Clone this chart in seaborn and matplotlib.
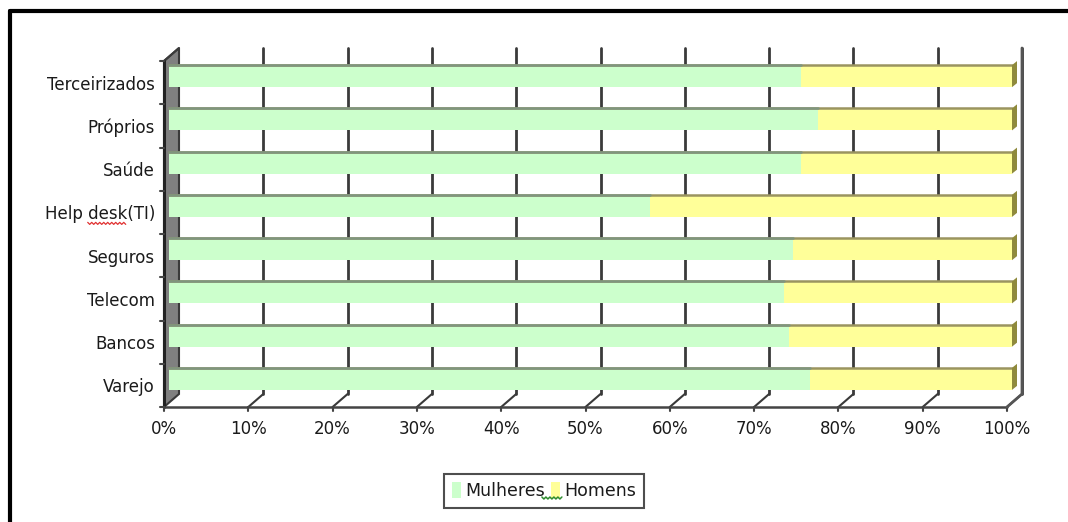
import matplotlib
matplotlib.use("Agg")
import matplotlib.pyplot as plt
from matplotlib.lines import Line2D
from matplotlib.patches import Polygon, Patch
from matplotlib.transforms import ScaledTranslation, IdentityTransform
import numpy as np
import pandas as pd
import seaborn as sns

# Data: share of women / men by call-center segment (%)
categorias = ["Terceirizados", "Próprios", "Saúde", "Help desk(TI)",
              "Seguros", "Telecom", "Bancos", "Varejo"]
mulheres = [75, 77, 75, 57, 74, 73, 73.5, 76]
homens = [25, 23, 25, 43, 26, 27, 26.5, 24]
x_ticks = [0, 10, 20, 30, 40, 50, 60, 70, 80, 90, 100]
x_tick_labels = ["0%", "10%", "20%", "30%", "40%", "50%", "60%",
                 "70%", "80%", "90%", "100%"]
serie_labels = ["Mulheres", "Homens"]

GREEN = "#CCFFCC"
YELLOW = "#FFFF99"
WALL = "#808080"
EDGE = "#3a3a3a"
TEXT = "#1a1a1a"

sns.set_theme(style="white")
plt.rcParams["font.family"] = ["DejaVu Sans"]

W, H, DPI = 1068, 522, 100
fig = plt.figure(figsize=(W / DPI, H / DPI), dpi=DPI)
fig.patch.set_facecolor("white")

# Axes = plane of the bars inside the 3-D box (pixels from the top-left)
left_px, right_px, top_px, bot_px = 169, 1012, 54.5, 400.5
ax = fig.add_axes([left_px / W, 1 - bot_px / H,
                   (right_px - left_px) / W, (bot_px - top_px) / H])
ax.set_facecolor("none")

df = pd.DataFrame({"categoria": categorias,
                   "Mulheres": mulheres, "Homens": homens})
df["total"] = df["Mulheres"] + df["Homens"]

sns.barplot(data=df, x="total", y="categoria", color=YELLOW, width=0.51,
            saturation=1, linewidth=0, ax=ax, zorder=3)
n_yellow = len(ax.patches)
sns.barplot(data=df, x="Mulheres", y="categoria", color=GREEN, width=0.51,
            saturation=1, linewidth=0, ax=ax, zorder=3)
bar_patches = list(ax.patches)

ncat = len(categorias)
ax.set_xlim(0, 100)
ax.set_ylim(ncat - 0.5, -0.5)
for s in ax.spines.values():
    s.set_visible(False)
ax.set_xlabel("")
ax.set_ylabel("")

# depth offsets (inches) of the front and back planes
FX, FY = -5 / DPI, -6.5 / DPI
BX, BY = 10 / DPI, 6.5 / DPI
front = ax.transData + ScaledTranslation(FX, FY, fig.dpi_scale_trans)
back = ax.transData + ScaledTranslation(BX, BY, fig.dpi_scale_trans)

ax.set_xticks(x_ticks, x_tick_labels)
ax.set_yticks(range(ncat), categorias)
ax.tick_params(axis="x", length=0, pad=9.5, labelsize=12, labelcolor=TEXT)
ax.tick_params(axis="y", length=0, pad=6.5, labelsize=12, labelcolor=TEXT)
shift = ScaledTranslation(FX, FY, fig.dpi_scale_trans)
for lab in ax.get_xticklabels() + ax.get_yticklabels():
    lab.set_transform(lab.get_transform() + shift)

ident = IdentityTransform()
y_top, y_bot = -0.5, ncat - 0.5


def P(tr, x, y):
    return tr.transform((x, y))


def seg(p, q, **kw):
    ax.add_line(Line2D([p[0], q[0]], [p[1], q[1]], transform=ident,
                       clip_on=False, **kw))


# left wall
wall = Polygon([P(front, 0, y_top), P(back, 0, y_top),
                P(back, 0, y_bot), P(front, 0, y_bot)],
               closed=True, facecolor=WALL, edgecolor=EDGE, lw=1.5,
               transform=ident, zorder=0.5, clip_on=False)
ax.add_patch(wall)

# back wall gridlines
for k in x_ticks[1:]:
    ax.add_line(Line2D([k, k], [y_top, y_bot], transform=back,
                       color=EDGE, lw=2, zorder=0.6, clip_on=False))

# floor gridlines (diagonals from front to back)
for k in x_ticks[1:]:
    seg(P(front, k, y_bot), P(back, k, y_bot), color=EDGE, lw=1.5, zorder=0.6)

# top-left diagonal of the wall
seg(P(front, 0, y_top), P(back, 0, y_top), color=EDGE, lw=1.5, zorder=4)

# front axis lines
ax.add_line(Line2D([0, 0], [y_top, y_bot], transform=front,
                   color="#222222", lw=2.2, zorder=4, clip_on=False))
ax.add_line(Line2D([0, 100], [y_bot, y_bot], transform=front,
                   color="#444444", lw=1.8, zorder=4, clip_on=False))

# small tick stubs on the front axes
for k in x_ticks:
    a = P(front, k, y_bot)
    seg(a, (a[0], a[1] - 4), color="#444444", lw=1.5, zorder=4)
for i in range(ncat + 1):
    a = P(front, 0, i - 0.5)
    seg((a[0] - 4, a[1]), a, color="#444444", lw=1.5, zorder=4)

# right edge of the back wall, and its corner down to the front axis
a, b = P(back, 100, y_top), P(back, 100, y_bot)
c = P(front, 100, y_bot)
ax.add_line(Line2D([a[0], b[0], c[0]], [a[1], b[1], c[1]], transform=ident,
                   color="#555555", lw=2, zorder=4, clip_on=False))

# bar top faces and right end faces
for idx, p in enumerate(bar_patches):
    x0, yb, w, h = p.get_x(), p.get_y(), p.get_width(), p.get_height()
    tl = P(ax.transData, x0, yb)
    tr = P(ax.transData, x0 + w, yb)
    br = P(ax.transData, x0 + w, yb + h)
    col = "#9a9460" if idx < n_yellow else "#7f957f"
    seg(tl, tr, color=col, lw=1.8, zorder=3.5)
    if idx < n_yellow:
        face = Polygon([tr, (tr[0] + 5, tr[1] + 4), (br[0] + 5, br[1] + 4), br],
                       closed=True, facecolor="#8f8a3c", edgecolor="none",
                       transform=ident, zorder=3.5, clip_on=False)
        ax.add_patch(face)

# legend
handles = [Patch(facecolor=GREEN, edgecolor="none"),
           Patch(facecolor=YELLOW, edgecolor="none")]
leg = fig.legend(handles, serie_labels, loc="center",
                 bbox_to_anchor=(544 / W, 1 - 491 / H), ncol=2,
                 frameon=True, fancybox=False, edgecolor="#222222",
                 handlelength=0.5, handleheight=1.0, handletextpad=0.25,
                 columnspacing=0.35, borderpad=0.45, borderaxespad=0,
                 fontsize=12.5, labelcolor=TEXT)
leg.get_frame().set_linewidth(1.5)

# outer frame lines (top and left)
fig.add_artist(Line2D([10 / W, 1], [1 - 11 / H, 1 - 11 / H],
                      transform=fig.transFigure, color="black", lw=3))
fig.add_artist(Line2D([10 / W, 10 / W], [0, 1 - 11 / H],
                      transform=fig.transFigure, color="black", lw=3))


# wavy proofing underlines
def squiggle(x0, x1, y, color, lw=0.9):
    xs = np.arange(x0, x1 + 0.1, 2.0)
    ys = y + np.where(np.arange(len(xs)) % 2 == 0, 0.0, -2.0)
    fig.add_artist(Line2D(xs, ys, transform=ident, color=color, lw=lw,
                          zorder=10))


fig.canvas.draw()
renderer = fig.canvas.get_renderer()
for lab in ax.get_yticklabels():
    txt = lab.get_text()
    if "desk" in txt:
        bb = lab.get_window_extent(renderer)
        fp = lab.get_fontproperties()
        pre = txt[:txt.index("desk")]
        w_pre = renderer.get_text_width_height_descent(pre, fp, ismath=False)[0]
        w_word = renderer.get_text_width_height_descent("desk", fp, ismath=False)[0]
        squiggle(bb.x0 + w_pre, bb.x0 + w_pre + w_word, bb.y0 + 1, "#e03030")

texts = leg.get_texts()
bb_m = texts[0].get_window_extent(renderer)
bb_h = texts[1].get_window_extent(renderer)
squiggle(bb_m.x1 - 3, bb_h.x0 - 1, bb_m.y0 + 3, "#2e8b2e", lw=1.1)

fig.savefig("out.png", dpi=DPI)
